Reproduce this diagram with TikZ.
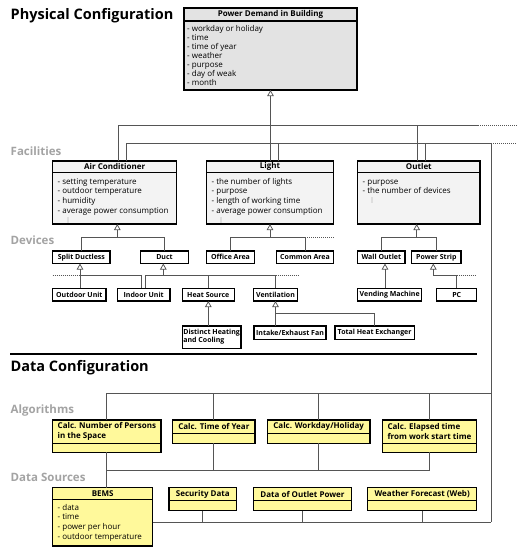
\documentclass[tikz,border=0pt]{standalone}
\usepackage{fontspec}
\setmainfont{Open Sans}
\usetikzlibrary{arrows.meta,fit}
\definecolor{pdfill}{HTML}{E3E3E3}
\definecolor{facfill}{HTML}{F3F3F3}
\definecolor{yel}{HTML}{FFF99B}
\definecolor{conncol}{HTML}{555555}
\definecolor{lblgray}{HTML}{A3A3A3}
\tikzset{
  box/.style={draw=black, line width=1.1pt, inner sep=0pt, outer sep=0pt},
  conn/.style={draw=conncol, line width=0.75pt},
  dotl/.style={draw=conncol, line width=0.75pt, dash pattern=on 1pt off 1pt},
  gen/.style={conn, -{Triangle[open, width=6.5pt, length=6pt, line width=0.75pt]}},
  hdr/.style={font=\fontsize{8}{10}\selectfont\bfseries, inner sep=0pt, align=left},
  stxt/.style={font=\fontsize{7}{8}\selectfont\bfseries, inner sep=0pt, align=left},
  body/.style={font=\fontsize{8}{9}\selectfont, inner sep=0pt, anchor=north west, align=left},
  sect/.style={font=\fontsize{14.5}{16}\selectfont\bfseries, inner sep=0pt, anchor=base west},
  lvl/.style={font=\fontsize{11.5}{13}\selectfont\bfseries, text=lblgray, inner sep=0pt, anchor=base west},
}
\newcommand\classbox[8]{%
  \node[box, fill=#7, fit={(#2,#3) (#4,#5)}] (#1) {};
  \draw[line width=1.1pt] (#1.west |- 0,#6) -- (#1.east |- 0,#6);
  \node[hdr] (#1-h) at ({(#2+#4)/2},{(#3+#6)/2}) {#8};
}
\newcommand\simplebox[6]{%
  \node[box, fill=white, fit={(#2,#3) (#4,#5)}] (#1) {};
  \node[stxt] (#1-t) at (#1.center) {#6};
}
\newcommand\vdts[2]{\fill[black] (#1,#2-2) circle (0.4) (#1,#2) circle (0.4) (#1,#2+2) circle (0.4);}
\begin{document}
\begin{tikzpicture}[x=1pt,y=-1pt]
\useasboundingbox (0,0) rectangle (517,550);

% section titles and level labels
\node[sect] (t1) at (10.5,19) {Physical Configuration};
\node[sect] (t2) at (10.5,371.5) {Data Configuration};
\node[lvl] (l1) at (10.5,155.5) {Facilities};
\node[lvl] (l2) at (10.5,244) {Devices};
\node[lvl] (l3) at (10.5,413.5) {Algorithms};
\node[lvl] (l4) at (10.5,481) {Data Sources};

% Power demand
\classbox{pd}{184}{8}{357}{90}{21}{pdfill}{Power Demand in Building}
\node[body] (pd-b) at (187,25.1) {\rule{0pt}{6pt}- workday or holiday\\- time\\- time of year\\- weather\\- purpose\\- day of weak\\- month};

% Facilities
\classbox{ac}{52.7}{161}{176.7}{224}{172.7}{facfill}{Air Conditioner}
\node[body, font=\fontsize{8}{9.7}\selectfont] (ac-b) at (57.5,177.9) {\rule{0pt}{6pt}- setting temperature\\- outdoor temperature\\- humidity\\- average power consumption};
\vdts{68}{220}
\classbox{light}{206.7}{161}{333.3}{224}{172.7}{facfill}{Light}
\node[body, font=\fontsize{8}{9.7}\selectfont] (light-b) at (211.5,177.9) {\rule{0pt}{6pt}- the number of lights\\- purpose\\- length of working time\\- average power consumption};
\vdts{221}{220}
\classbox{outlet}{357.7}{161}{480}{224}{172.7}{facfill}{Outlet}
\node[body, font=\fontsize{8}{9.7}\selectfont] (outlet-b) at (362.5,177.9) {\rule{0pt}{6pt}- purpose\\- the number of devices};
\vdts{372}{200}

% Devices
\simplebox{split}{52.7}{251}{110}{263.5}{Split Ductless}
\simplebox{duct}{140.7}{251}{188.3}{263.5}{Duct}
\simplebox{office}{206.7}{251}{254.3}{263.5}{Office Area}
\simplebox{common}{276.7}{251}{333.3}{263.5}{Common Area}
\simplebox{wall}{357.7}{251}{405}{263.5}{Wall Outlet}
\simplebox{strip}{411.7}{251}{461}{263.5}{Power Strip}
\simplebox{outdoor}{52.7}{288.3}{106}{301}{Outdoor Unit}
\simplebox{indoor}{117.3}{288.3}{170}{301}{Indoor Unit}
\simplebox{heat}{182.3}{288.3}{234.3}{301}{Heat Source}
\simplebox{vent}{253.3}{288.3}{297.7}{301}{Ventilation}
\simplebox{vending}{357.7}{288.3}{421.7}{301}{Vending Machine}
\simplebox{pc}{436.7}{288.3}{476.7}{301}{PC}
\simplebox{distinct}{182.3}{326}{241}{348.3}{Distinct Heating\\and Cooling}
\simplebox{intake}{254}{326}{326}{339.3}{Intake/Exhaust Fan}
\simplebox{thx}{335}{326}{414.3}{339.3}{Total Heat Exchanger}

% separator
\draw[line width=1.8pt] (10,354.3) -- (477,354.3);

% Algorithms
\classbox{persons}{52.7}{420}{161}{452.3}{443.3}{yel}{Calc. Number of Persons\\in the Space}
\classbox{toy}{172.7}{420}{255}{443.3}{433.3}{yel}{Calc. Time of Year}
\classbox{workday}{267.3}{420}{370}{443.3}{433.3}{yel}{Calc. Workday/Holiday}
\classbox{elapsed}{382.3}{420}{476.7}{452.3}{443.3}{yel}{Calc. Elapsed time\\from work start time}

% Data sources
\classbox{bems}{52.7}{487.7}{152.7}{546}{499.3}{yel}{BEMS}
\node[body, font=\fontsize{8}{9.7}\selectfont] (bems-b) at (57.5,503.9) {\rule{0pt}{6pt}- data\\- time\\- power per hour\\- outdoor temperature};
\classbox{security}{169}{487.7}{236.7}{510.7}{500.7}{yel}{Security Data}
\classbox{outletpow}{253.3}{487.7}{351.7}{510.7}{500.7}{yel}{Data of Outlet Power}
\classbox{weather}{367.7}{487.7}{476.7}{510.7}{500.7}{yel}{Weather Forecast (Web)}

% ---- connectors ----
% bus 1: generalization to Power Demand
\coordinate (b1e) at (478,125);
\coordinate (b1d) at (517,125);
\draw[conn] (ac.north -| 118,0) |- (b1e);
\draw[dotl] (b1e) -- (b1d);
\draw[conn] (outlet.north -| 417,0) |- (b1e);
\draw[gen] (light.north -| pd.south) -- (pd.south);

% bus 2: facilities to data
\coordinate (b2e) at (491,143);
\coordinate (b2d) at (517,143);
\draw[conn] (ac.north -| 126,0) |- (b2e);
\draw[dotl] (b2e) -- (b2d);
\draw[conn] (light.north -| 278,0) |- (b2e);
\draw[conn] (outlet.north -| 425,0) |- (b2e);
\coordinate (b3) at (491,393);
\coordinate (b4) at (0,470);
\coordinate (b5) at (491,522.3);
\draw[conn] (b2e) -- (b5);
\draw[conn] (persons.north) |- (b3);
\draw[conn] (toy.north) -- (toy.north |- b3);
\draw[conn] (workday.north) -- (workday.north |- b3);
\draw[conn] (elapsed.north) -- (elapsed.north |- b3);
\draw[conn] (persons.south) -- (bems.north -| persons.south);
\draw[conn] (persons.south |- b4) -- (elapsed.south |- b4) -- (elapsed.south);
\draw[conn] (toy.south) -- (toy.south |- b4);
\draw[conn] (workday.south) -- (workday.south |- b4);
\draw[conn] (bems.east |- b5) -- (b5);
\draw[conn] (security.south) -- (security.south |- b5);
\draw[conn] (outletpow.south) -- (outletpow.south |- b5);
\draw[conn] (weather.south) -- (weather.south |- b5);

% devices level 2
\coordinate (d1) at (0,237.8);
\coordinate (acT) at (117.3,237.8);
\draw[gen] (acT) -- (acT |- ac.south);
\draw[conn] (split.north) |- (duct.north |- d1) -- (duct.north);
\draw[gen] (light.south |- d1) -- (light.south);
\draw[conn] (office.north) |- (common.north |- d1) -- (common.north);
\draw[dotl] (common.north |- d1) -- (light.east |- d1);
\coordinate (olT) at (416.7,237.8);
\draw[gen] (olT) -- (olT |- outlet.south);
\draw[conn] (wall.north) |- (strip.north |- d1) -- (strip.north);

% devices level 3
\coordinate (d2) at (0,275.5);
\coordinate (spT) at (80,275.5);
\coordinate (inL) at (141.7,275.5);
\coordinate (inR) at (145.7,275.5);
\coordinate (duT) at (163.3,275.5);
\coordinate (stT) at (433.3,275.5);
\draw[gen] (outdoor.north -| spT) -- (split.south -| spT);
\draw[dotl] (outdoor.west |- d2) -- (spT);
\draw[conn] (spT) -- (inL) -- (inL |- indoor.north);
\draw[gen] (duT) -- (duT |- duct.south);
\draw[conn] (inR |- indoor.north) -- (inR) -- (vent.north |- d2) -- (vent.north);
\draw[conn] (heat.north) -- (heat.north |- d2);
\draw[dotl] (vent.north |- d2) -- (299,275.5);
\draw[gen] (vending.north -| 385,0) -- (wall.south -| 385,0);
\draw[gen] (stT) -- (stT |- strip.south);
\draw[conn] (stT) -- (pc.north |- d2) -- (pc.north);
\draw[dotl] (pc.north |- d2) -- (pc.east |- d2);

% devices level 4
\coordinate (d3) at (0,313.3);
\draw[gen] (distinct.north -| heat.south) -- (heat.south);
\draw[gen] (intake.north -| vent.south) -- (vent.south);
\draw[conn] (vent.south |- d3) -| (thx.north);
\end{tikzpicture}
\end{document}
